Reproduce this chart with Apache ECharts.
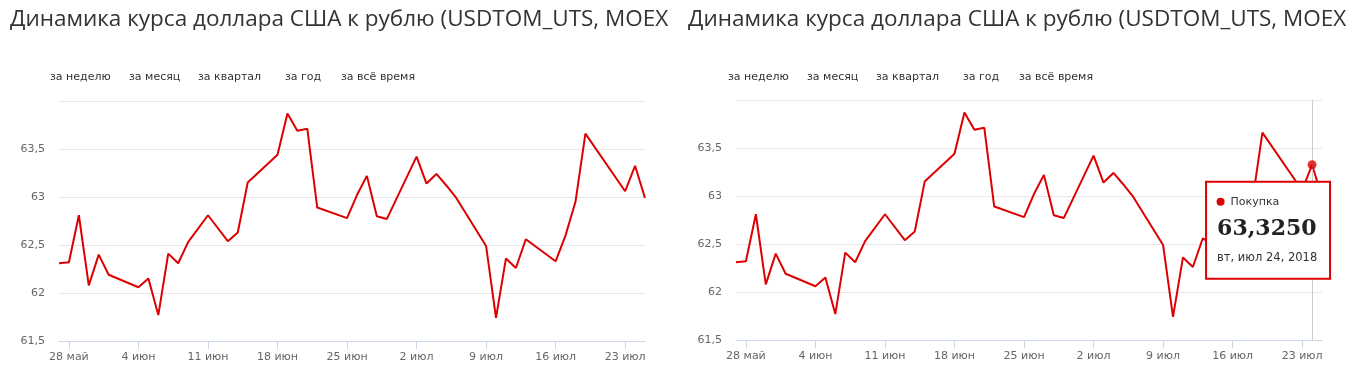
<!DOCTYPE html>
<html>
<head>
<meta charset="utf-8">
<script src="https://cdn.jsdelivr.net/npm/echarts@6/dist/echarts.min.js"></script>
<style>
html,body{margin:0;padding:0;background:#fff;}
#c{width:1347px;height:383px;}
</style>
</head>
<body>
<div id="c"></div>
<script>
// ---- data ----
const titleText = 'Динамика курса доллара США к рублю (USDTOM_UTS, MOEX';
const seriesName = 'Покупка';
const buttons = ['за неделю', 'за месяц', 'за квартал', 'за год', 'за всё время'];
const dates = ['2018-05-27','2018-05-28','2018-05-29','2018-05-30','2018-05-31','2018-06-01',
  '2018-06-04','2018-06-05','2018-06-06','2018-06-07','2018-06-08','2018-06-09',
  '2018-06-11','2018-06-13','2018-06-14','2018-06-15',
  '2018-06-18','2018-06-19','2018-06-20','2018-06-21','2018-06-22',
  '2018-06-25','2018-06-26','2018-06-27','2018-06-28','2018-06-29',
  '2018-07-02','2018-07-03','2018-07-04','2018-07-05','2018-07-06',
  '2018-07-09','2018-07-10','2018-07-11','2018-07-12','2018-07-13',
  '2018-07-16','2018-07-17','2018-07-18','2018-07-19',
  '2018-07-23','2018-07-24','2018-07-25'];
const values = [62.31, 62.32, 62.81, 62.08, 62.40, 62.19,
  62.06, 62.15, 61.77, 62.41, 62.31, 62.53,
  62.81, 62.54, 62.63, 63.15,
  63.44, 63.87, 63.69, 63.71, 62.89,
  62.78, 63.02, 63.22, 62.80, 62.77,
  63.42, 63.14, 63.24, 63.12, 62.99,
  62.49, 61.74, 62.36, 62.26, 62.56,
  62.33, 62.60, 62.95, 63.66,
  63.06, 63.325, 62.99];
const tickDates = ['2018-05-28','2018-06-04','2018-06-11','2018-06-18','2018-06-25','2018-07-02','2018-07-09','2018-07-16','2018-07-23'];
const tickLabels = ['28 май','4 июн','11 июн','18 июн','25 июн','2 июл','9 июл','16 июл','23 июл'];
const yMin = 61.5, yMax = 64, yStep = 0.5;
const hoverDate = '2018-07-24';
const weekdays = ['вс','пн','вт','ср','чт','пт','сб'];
const months = ['янв','фев','мар','апр','май','июн','июл','авг','сен','окт','ноя','дек'];

// ---- helpers ----
function ts(s){ const p = s.split('-').map(Number); return Date.UTC(p[0], p[1]-1, p[2]); }
const points = dates.map((d, i) => [ts(d), values[i]]);
const tickTs = tickDates.map(ts);
const labelMap = {};
tickTs.forEach((t, i) => { labelMap[t] = tickLabels[i]; });
const hoverIdx = dates.indexOf(hoverDate);

const RED = '#dd0000';
const AXIS = '#ccd6eb';
const GRID = '#e6e6e6';
const LBL = '#666666';
const SANS = '"DejaVu Sans", Verdana, sans-serif';
const SERIF = '"DejaVu Serif", Georgia, serif';

const panels = [
  {dx: 0, grid: {left: 59, top: 101, width: 586, height: 240}},
  {dx: 678, grid: {left: 736, top: 100, width: 586, height: 240}}
];
const btnX = [50, 129, 198, 285, 341];

function xAxisFor(i){
  return {
    type: 'value', gridIndex: i, scale: true,
    min: points[0][0], max: points[points.length-1][0],
    axisLine: {show: true, lineStyle: {color: AXIS, width: 1}},
    axisTick: {show: true, length: 8, lineStyle: {color: AXIS}, customValues: tickTs},
    axisLabel: {show: true, customValues: tickTs, margin: 11, color: LBL, fontSize: 11, fontFamily: SANS,
      formatter: v => labelMap[v] || ''},
    splitLine: {show: false}
  };
}
function yAxisFor(i){
  return {
    type: 'value', gridIndex: i, min: yMin, max: yMax, interval: yStep,
    axisLine: {show: false}, axisTick: {show: false},
    axisLabel: {margin: 14, color: LBL, fontSize: 11, fontFamily: SANS,
      formatter: v => (v >= yMax ? '' : String(v).replace('.', ','))},
    splitLine: {lineStyle: {color: GRID, width: 1}}
  };
}

const graphics = [];
panels.forEach(p => {
  graphics.push({type: 'text', x: 10 + p.dx, y: 20, silent: true,
    style: {text: titleText, fill: '#333', font: '22.5px "Open Sans", sans-serif', verticalAlign: 'middle'}});
  buttons.forEach((b, j) => {
    graphics.push({type: 'text', x: btnX[j] + p.dx, y: 77, silent: true,
      style: {text: b, fill: '#333', font: '11px ' + SANS, verticalAlign: 'middle'}});
  });
});

const option = {
  animation: false,
  grid: panels.map(p => Object.assign({containLabel: false}, p.grid)),
  xAxis: [xAxisFor(0), xAxisFor(1)],
  yAxis: [yAxisFor(0), yAxisFor(1)],
  graphic: graphics,
  series: [
    {name: seriesName, type: 'line', xAxisIndex: 0, yAxisIndex: 0, data: points,
      symbol: 'none', lineStyle: {color: RED, width: 2}, itemStyle: {color: RED}, emphasis: {disabled: true}},
    {name: seriesName, type: 'line', xAxisIndex: 1, yAxisIndex: 1, data: points,
      symbol: 'none', lineStyle: {color: RED, width: 2}, itemStyle: {color: RED}, emphasis: {disabled: true},
      markLine: {silent: true, symbol: 'none', label: {show: false},
        lineStyle: {color: '#cccccc', width: 1, type: 'solid'},
        data: [{xAxis: points[hoverIdx][0]}]}},
    {name: seriesName, type: 'scatter', xAxisIndex: 1, yAxisIndex: 1, data: [points[hoverIdx]],
      symbol: 'circle', symbolSize: 9, itemStyle: {color: RED}, z: 5, silent: true}
  ]
};

const chart = echarts.init(document.getElementById('c'), null, {renderer: 'canvas'});
chart.setOption(option);

// tooltip box (drawn as graphic, anchored to the hovered point via the axes)
const hp = points[hoverIdx];
const pix = chart.convertToPixel({xAxisIndex: 1, yAxisIndex: 1}, hp);
const d = new Date(hp[0]);
const dateStr = weekdays[d.getUTCDay()] + ', ' + months[d.getUTCMonth()] + ' ' + d.getUTCDate() + ', ' + d.getUTCFullYear();
const valStr = hp[1].toFixed(4).replace('.', ',');
const bx = pix[0] - 106, by = pix[1] + 17;
const ZT = 100;
graphics.push(
  {type: 'rect', x: bx, y: by, z: ZT, silent: true, shape: {x: 0, y: 0, width: 124, height: 97}, style: {fill: '#fff', stroke: RED, lineWidth: 2}},
  {type: 'circle', x: bx, y: by, z: ZT + 1, silent: true, shape: {cx: 14.5, cy: 20, r: 4}, style: {fill: RED}},
  {type: 'text', x: bx + 24.5, y: by + 20, z: ZT + 1, silent: true, style: {text: seriesName, fill: '#333', font: '11px ' + SANS, verticalAlign: 'middle'}},
  {type: 'text', x: bx + 11, y: by + 47.5, z: ZT + 1, silent: true, style: {text: valStr, fill: '#222', font: 'bold 22px ' + SERIF, verticalAlign: 'middle'}},
  {type: 'text', x: bx + 11, y: by + 76.5, z: ZT + 1, silent: true, style: {text: dateStr, fill: '#333', font: '11.5px ' + SANS, verticalAlign: 'middle'}}
);
chart.setOption({graphic: graphics});
</script>
</body>
</html>
